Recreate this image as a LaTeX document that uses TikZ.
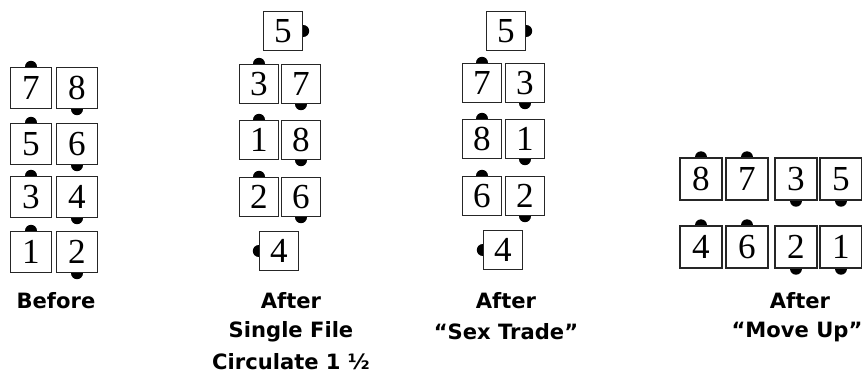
\documentclass[tikz,border=0pt]{standalone}
\usepackage{fontspec}
\setmainfont{Liberation Serif}
\newfontfamily\capfont{DejaVu Sans}
\usetikzlibrary{backgrounds}
\tikzset{
  card/.style={draw=black!85, line width=0.8pt, fill=white, minimum size=0.8cm,
    inner sep=0pt, font=\fontsize{20}{20}\selectfont},
  caption/.style={font=\capfont\bfseries\fontsize{12}{14}\selectfont},
  pip/.style={fill=black}
}

\begin{document}
\begin{tikzpicture}[x=0.02cm, y=-0.02cm]
  \useasboundingbox (0,0) rectangle (862,387);
  % before
  \foreach \n/\x/\y in {7/31/88, 8/77/88, 5/31/144, 6/77/144,
                        3/31/197, 4/77/197, 1/31/252, 2/77/252}
    \node[card, minimum size=0.82cm] (b\n) at (\x,\y) {\n};
  % after single file circulate
  \foreach \n/\x/\y in {5/283/31, 3/259/84, 7/301/84, 1/259/140,
                        8/301/140, 2/259/197, 6/301/197, 4/279/251}
    \node[card, minimum size=0.78cm] (s\n) at (\x,\y) {\n};
  % after sex trade
  \foreach \n/\x/\y in {5/506/31, 7/482/83, 3/525/83, 8/482/139,
                        1/525/139, 6/482/196, 2/525/196, 4/503/250}
    \node[card, minimum size=0.78cm] (t\n) at (\x,\y) {\n};
  % after move up
  \foreach \n/\x/\y in {8/701/179, 7/747/179, 3/796/179, 5/841/179,
                        4/701/247, 6/747/247, 2/796/247, 1/841/247}
    \node[card, minimum size=0.84cm] (m\n) at (\x,\y) {\n};
  % noses
  \begin{scope}[on background layer]
    \foreach \p in {b7,b5,b3,b1,s3,s1,s2,t7,t8,t6,m8,m7,m4,m6}
      \fill[pip] (\p.north) circle (0.12cm);
    \foreach \p in {b8,b6,b4,b2,s7,s8,s6,t3,t1,t2,m3,m5,m2,m1}
      \fill[pip] (\p.south) circle (0.12cm);
    \fill[pip] (s5.east) circle (0.12cm);
    \fill[pip] (t5.east) circle (0.12cm);
    \fill[pip] (s4.west) circle (0.12cm);
    \fill[pip] (t4.west) circle (0.12cm);
  \end{scope}
  % captions
  \node[caption] (capb) at (56,301) {Before};
  \node[caption] (caps1) at (291,301) {After};
  \node[caption] (caps2) at (291,332) {Single File};
  \node[caption] (caps3) at (291,362) {Circulate 1 ½};
  \node[caption] (capt1) at (506,301) {After};
  \node[caption] (capt2) at (506,332) {“Sex Trade”};
  \node[caption] (capm1) at (800,301) {After};
  \node[caption] (capm2) at (797,332) {“Move Up”};
\end{tikzpicture}
\end{document}
